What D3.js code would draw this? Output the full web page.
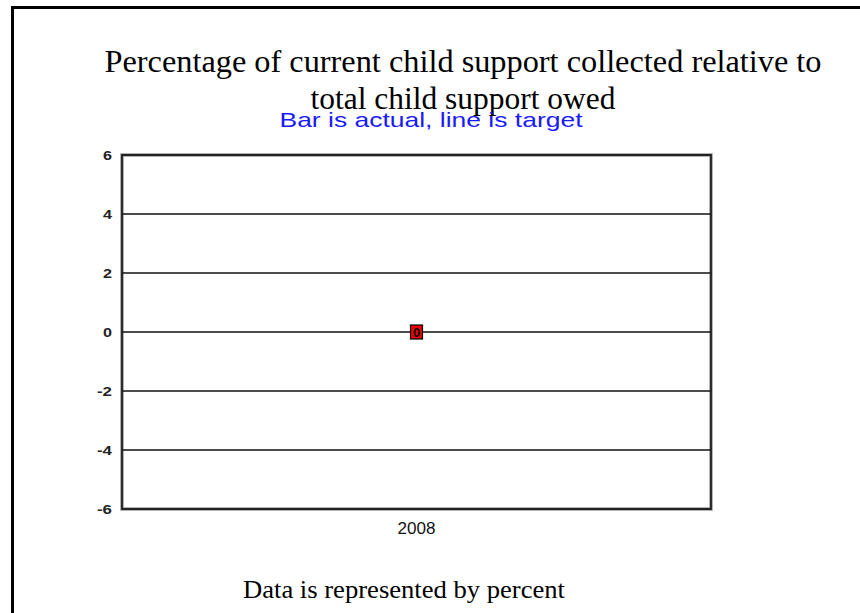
<!DOCTYPE html>
<html><head><meta charset="utf-8">
<script src="https://cdn.jsdelivr.net/npm/d3@7"></script>
<style>body{margin:0;background:#fff}svg{display:block}</style>
</head><body>
<svg id="c" width="860" height="613"></svg>
<script>
const categories = ["2008"];
const actualValues = [0];
const targetValues = [0];
const yTicks = [-6, -4, -2, 0, 2, 4, 6];
const titleLines = ["Percentage of current child support collected relative to", "total child support owed"];
const subtitle = "Bar is actual, line is target";
const footer = "Data is represented by percent";

const svg = d3.select("#c");
// outer frame
svg.append("rect").attr("x", 12.5).attr("y", 7.5).attr("width", 900).attr("height", 700)
  .attr("fill", "none").attr("stroke", "#000").attr("stroke-width", 3);

const m = {left: 122, right: 711, top: 155, bottom: 509};
const x = d3.scaleBand().domain(categories).range([m.left, m.right]);
const y = d3.scaleLinear().domain([-6, 6]).range([m.bottom, m.top]);

// title
const titleWidths = [717, 305];
svg.append("g").selectAll("text").data(titleLines).join("text")
  .attr("x", 463).attr("y", (d, i) => 72 + i * 37)
  .attr("text-anchor", "middle").attr("font-family", "Liberation Serif, Times New Roman, serif")
  .attr("font-size", 31).attr("fill", "#000")
  .attr("textLength", (d, i) => titleWidths[i]).attr("lengthAdjust", "spacingAndGlyphs").text(d => d);

svg.append("text").attr("x", 431).attr("y", 127).attr("text-anchor", "middle")
  .attr("font-family", "Liberation Sans, Arial, sans-serif").attr("font-size", 21)
  .attr("fill", "#1a1aff").attr("textLength", 303).attr("lengthAdjust", "spacingAndGlyphs").text(subtitle);

// frame shadow
svg.append("rect").attr("x", m.left).attr("y", m.top).attr("width", m.right - m.left).attr("height", m.bottom - m.top)
  .attr("fill", "none").attr("stroke", "#999").attr("stroke-width", 3.5);

// gridlines
svg.append("g").selectAll("line").data(yTicks).join("line")
  .attr("x1", m.left).attr("x2", m.right).attr("y1", d => y(d)).attr("y2", d => y(d))
  .attr("stroke", "#111").attr("stroke-width", 1.6);

svg.append("rect").attr("x", m.left).attr("y", m.top).attr("width", m.right - m.left).attr("height", m.bottom - m.top)
  .attr("fill", "none").attr("stroke", "#222").attr("stroke-width", 1.8);

// y axis labels
const yAxis = d3.axisLeft(y).tickValues(yTicks).tickSize(0).tickPadding(10).tickFormat(d => String(d));
const ga = svg.append("g").attr("transform", `translate(${m.left},0)`).call(yAxis);
ga.select(".domain").remove();
ga.selectAll("text").attr("font-family", "Liberation Sans, Arial, sans-serif").attr("font-size", 13)
  .attr("font-weight", "bold").attr("fill", "#222")
  .attr("textLength", d => d < 0 ? 15 : 9).attr("lengthAdjust", "spacingAndGlyphs");

// x axis labels
const xAxis = d3.axisBottom(x).tickSize(0).tickPadding(13);
const gx = svg.append("g").attr("transform", `translate(0,${m.bottom})`).call(xAxis);
gx.select(".domain").remove();
gx.selectAll("text").attr("font-family", "Liberation Sans, Arial, sans-serif").attr("font-size", 17)
  .attr("fill", "#111").attr("textLength", 38).attr("lengthAdjust", "spacingAndGlyphs");

// bars (actual) – zero-valued bar drawn with minimum visible size
const minH = 14, barW = 12;
svg.append("g").selectAll("rect").data(actualValues).join("rect")
  .attr("x", (d, i) => x(categories[i]) + x.bandwidth() / 2 - barW / 2)
  .attr("y", d => Math.min(y(d), y(0)) - (Math.abs(y(d) - y(0)) < minH ? minH / 2 : 0))
  .attr("width", barW)
  .attr("height", d => Math.max(Math.abs(y(d) - y(0)), minH))
  .attr("fill", "#ee0000").attr("stroke", "#000").attr("stroke-width", 1.2);

// value labels
svg.append("g").selectAll("text").data(actualValues).join("text")
  .attr("x", (d, i) => x(categories[i]) + x.bandwidth() / 2)
  .attr("y", d => y(d) + 5)
  .attr("text-anchor", "middle").attr("font-family", "Liberation Sans, Arial, sans-serif")
  .attr("font-size", 13).attr("font-weight", "bold").attr("fill", "#000").text(d => d);

// target line
const line = d3.line().x((d, i) => x(categories[i]) + x.bandwidth() / 2).y(d => y(d));
svg.append("path").datum(targetValues).attr("d", line).attr("fill", "none").attr("stroke", "#000").attr("stroke-width", 2);

// footer
svg.append("text").attr("x", 404).attr("y", 598).attr("text-anchor", "middle")
  .attr("font-family", "Liberation Serif, Times New Roman, serif").attr("font-size", 25)
  .attr("fill", "#000").attr("textLength", 322).attr("lengthAdjust", "spacingAndGlyphs").text(footer);
</script>
</body></html>
